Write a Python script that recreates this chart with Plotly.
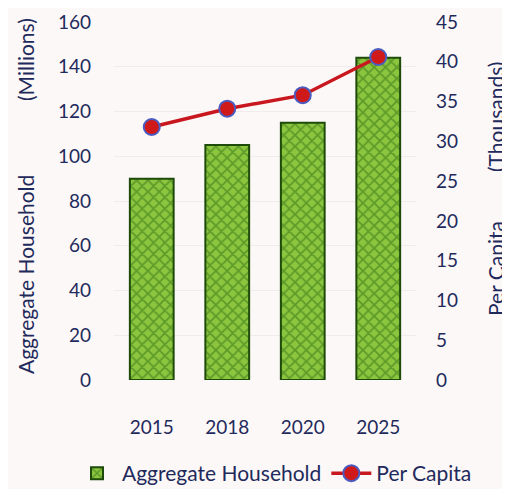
import plotly.graph_objects as go

years = ["2015", "2018", "2020", "2025"]
aggregate_household = [90, 105, 115, 144]
per_capita = [31.8, 34.1, 35.8, 40.6]
left_ticks = [0, 20, 40, 60, 80, 100, 120, 140, 160]
right_ticks = [0, 5, 10, 15, 20, 25, 30, 35, 40, 45]

navy = "#1f2a5c"
font_family = "Lato, 'Open Sans', sans-serif"

fig = go.Figure()
fig.add_trace(go.Bar(
    x=years, y=aggregate_household, name="Aggregate Household",
    marker=dict(color="#8cc63f",
                line=dict(color="#1e4a0a", width=2),
                pattern=dict(shape="x", bgcolor="#8cc63f", fgcolor="#2f6e12",
                             size=8, solidity=0.4, fillmode="overlay")),
    width=0.58,
))
fig.add_trace(go.Scatter(
    x=years, y=per_capita, name="Per Capita", yaxis="y2",
    mode="lines+markers",
    line=dict(color="#c8171e", width=3.5),
    marker=dict(color="#d01a1a", size=16, line=dict(color="#4b5bc0", width=2)),
))

# The page body has an 8px margin; figure coordinates = window coordinates - 8.
# The figure is a little taller than the window so the legend never pushes margins.
W, H = 502, 500
L, R, T, B = 106, 94, 14, 128
PW, PH = W - L - R, H - T - B


def px_x(x):
    return (x - 8 - L) / PW


def px_y(y):
    return (H - B - (y - 8)) / PH


title_font = dict(size=21, color=navy, family=font_family)
annotations = [
    dict(text="(Millions)", x=px_x(25), y=px_y(60), textangle=-90),
    dict(text="Aggregate Household", x=px_x(25), y=px_y(275), textangle=-90),
    dict(text="(Thousands)", x=px_x(495), y=px_y(117), textangle=-90),
    dict(text="Per Capita", x=px_x(495), y=px_y(268), textangle=-90),
]
for a in annotations:
    a.update(xref="paper", yref="paper", showarrow=False, font=title_font,
             xanchor="center", yanchor="middle")

fig.update_layout(
    width=W, height=H,
    paper_bgcolor="#fcf8f7", plot_bgcolor="#fcf8f7",
    margin=dict(l=L, r=R, t=T, b=B),
    font=dict(family=font_family, color=navy, size=19),
    bargap=0.42,
    annotations=annotations,
    xaxis=dict(type="category", showline=False, ticks="", automargin=False,
               tickfont=dict(size=19, color=navy), ticklabelstandoff=34),
    yaxis=dict(range=[0, 160], tickvals=left_ticks, showgrid=True, automargin=False,
               gridcolor="#efeceb", gridwidth=1, zeroline=False,
               tickfont=dict(size=19, color=navy), ticklabelstandoff=22),
    yaxis2=dict(range=[0, 45], tickvals=right_ticks, overlaying="y", side="right",
                showgrid=False, zeroline=False, automargin=False,
                tickfont=dict(size=19, color=navy), ticklabelstandoff=19),
    legend=dict(orientation="h", xanchor="left", x=px_x(72),
                y=px_y(494), yanchor="bottom",
                font=dict(size=21, color=navy), bgcolor="rgba(0,0,0,0)",
                itemwidth=40, tracegroupgap=0),
)

fig.write_html("out.html")
